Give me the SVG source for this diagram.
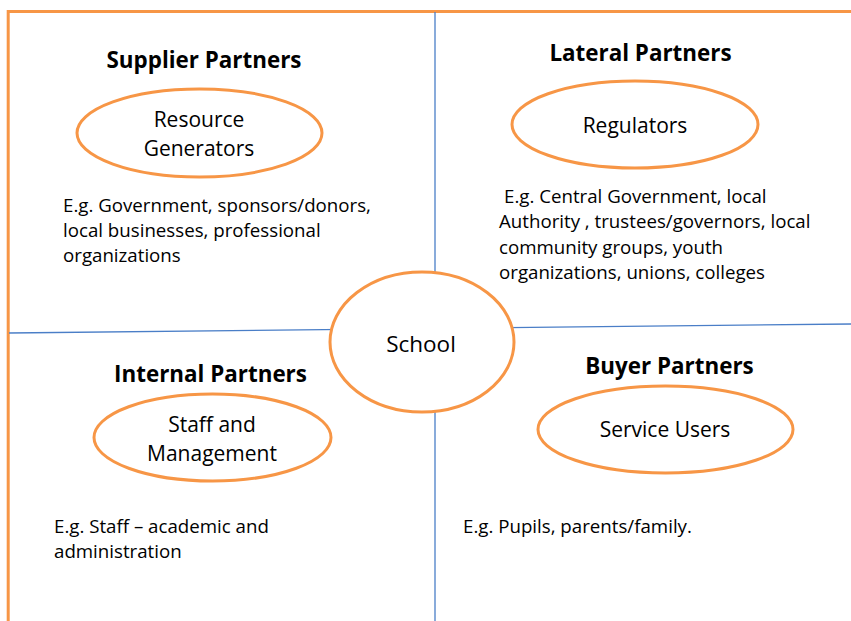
<svg xmlns="http://www.w3.org/2000/svg" width="851" height="621" viewBox="0 0 851 621">
<style>
.frame{fill:none;stroke:#F79646;stroke-width:3}
.div{fill:none;stroke:#4A7EC7;stroke-width:1.3}
.ell{fill:#FFFFFF;stroke:#F79646;stroke-width:3}
.h{font-family:"Open Sans","Liberation Sans",sans-serif;font-weight:bold;font-size:22.4px;fill:#000;text-anchor:middle}
.l{font-family:"Open Sans","Liberation Sans",sans-serif;font-size:21px;fill:#000;text-anchor:middle}
.t{font-family:"Open Sans","Liberation Sans",sans-serif;font-size:18.7px;fill:#000}
</style>
<rect width="851" height="621" fill="#FFFFFF"/>
<g id="connectors">
<path class="frame" d="M8.2,621 V11.5 H851"/>
<line class="div" x1="435" y1="12" x2="435" y2="621"/>
<line class="div" x1="9" y1="333" x2="851" y2="324"/>
</g>
<g id="supplier">
<text class="h" x="204" y="68">Supplier Partners</text>
<ellipse class="ell" cx="199.5" cy="133" rx="122.5" ry="44"/>
<text class="l" x="199" y="127">Resource</text>
<text class="l" x="199" y="156">Generators</text>
<text class="t"><tspan x="63" y="212">E.g. Government, sponsors/donors,</tspan><tspan x="63" y="237">local businesses, professional</tspan><tspan x="63" y="262">organizations</tspan></text>
</g>
<g id="lateral">
<text class="h" x="640.5" y="61">Lateral Partners</text>
<ellipse class="ell" cx="635" cy="124.5" rx="123" ry="43.5"/>
<text class="l" x="635" y="133">Regulators</text>
<text class="t"><tspan x="504" y="203">E.g. Central Government, local</tspan><tspan x="499" y="228">Authority , trustees/governors, local</tspan><tspan x="499" y="254">community groups, youth</tspan><tspan x="499" y="279">organizations, unions, colleges</tspan></text>
</g>
<g id="school">
<ellipse class="ell" cx="422" cy="342" rx="92" ry="70"/>
<text class="l" x="421" y="352" style="font-size:22.5px">School</text>
</g>
<g id="internal">
<text class="h" x="210.5" y="382">Internal Partners</text>
<ellipse class="ell" cx="212.5" cy="437.5" rx="118.5" ry="43.5"/>
<text class="l" x="212" y="432">Staff and</text>
<text class="l" x="212" y="461">Management</text>
<text class="t"><tspan x="54" y="533">E.g. Staff – academic and</tspan><tspan x="54" y="558">administration</tspan></text>
</g>
<g id="buyer">
<text class="h" x="669.5" y="374">Buyer Partners</text>
<ellipse class="ell" cx="665.5" cy="429.5" rx="127.5" ry="43.5"/>
<text class="l" x="665" y="437">Service Users</text>
<text class="t" x="463" y="533">E.g. Pupils, parents/family.</text>
</g>
</svg>
